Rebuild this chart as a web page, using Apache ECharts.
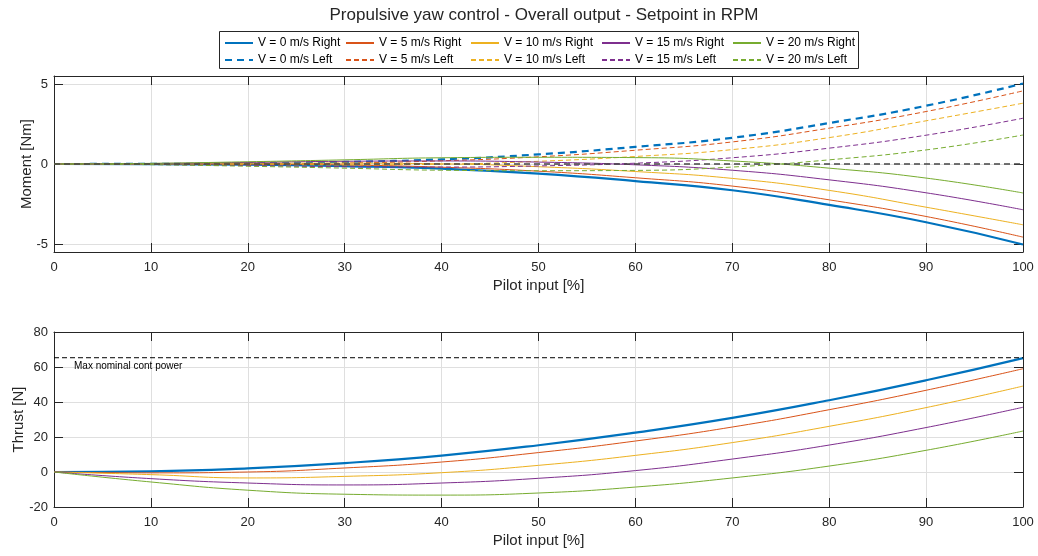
<!DOCTYPE html>
<html>
<head>
<meta charset="utf-8">
<script src="https://cdn.jsdelivr.net/npm/echarts@6/dist/echarts.min.js"></script>
<style>
  html, body { margin: 0; padding: 0; background: #fff; }
  #chart { width: 1038px; height: 556px; }
</style>
</head>
<body>
<div id="chart"></div>
<script>
// Pilot input [%] sample positions
const pilotInput = [0, 10, 20, 30, 40, 50, 60, 70, 80, 90, 100];

// Airspeed cases
const speeds = [0, 5, 10, 15, 20];
const speedColors = ['#0072BD', '#D95319', '#EDB120', '#7E2F8E', '#77AC30'];

// Yaw moment [Nm], right pedal (solid)
const momentRightV0  = [0, -0.01, -0.04, -0.13, -0.29, -0.60, -1.07, -1.64, -2.56, -3.64, -5.03];
const momentRightV5  = [0, 0.00, -0.01, -0.06, -0.20, -0.45, -0.86, -1.38, -2.24, -3.28, -4.57];
const momentRightV10 = [0, 0.01, 0.05, 0.05, 0.01, -0.17, -0.47, -0.90, -1.65, -2.70, -3.80];
const momentRightV15 = [0, 0.03, 0.10, 0.17, 0.19, 0.12, -0.05, -0.39, -0.99, -1.80, -2.86];
const momentRightV20 = [0, 0.04, 0.14, 0.26, 0.39, 0.42, 0.40, 0.19, -0.26, -0.88, -1.81];

// Yaw moment [Nm], left pedal (dashed)
const momentLeftV0  = [0, 0.01, 0.04, 0.13, 0.29, 0.60, 1.07, 1.64, 2.56, 3.64, 5.03];
const momentLeftV5  = [0, 0.00, 0.01, 0.06, 0.20, 0.45, 0.86, 1.38, 2.24, 3.28, 4.57];
const momentLeftV10 = [0, -0.01, -0.05, -0.05, -0.01, 0.17, 0.47, 0.90, 1.65, 2.70, 3.80];
const momentLeftV15 = [0, -0.03, -0.10, -0.17, -0.19, -0.12, 0.05, 0.39, 0.99, 1.80, 2.86];
const momentLeftV20 = [0, -0.04, -0.14, -0.26, -0.39, -0.42, -0.40, -0.19, 0.26, 0.88, 1.81];

// Thrust [N]
const thrustV0  = [0, 0.4, 2.1, 5.1, 9.4, 15.3, 22.5, 30.9, 41.0, 52.4, 65.1];
const thrustV5  = [0, -0.5, 0.0, 2.3, 5.7, 11.1, 17.7, 25.7, 35.6, 46.7, 59.0];
const thrustV10 = [0, -1.5, -3.4, -2.5, -0.4, 3.8, 9.5, 16.8, 26.1, 36.8, 49.1];
const thrustV15 = [0, -3.8, -6.3, -7.4, -6.3, -3.6, 0.8, 7.4, 15.4, 25.4, 37.0];
const thrustV20 = [0, -5.7, -10.4, -12.7, -13.2, -12.0, -8.6, -3.4, 3.4, 12.4, 23.4];

// Max nominal continuous power thrust limit [N]
const maxNominalThrust = 65.3;

const xTicks = { min: 0, max: 100, interval: 10 };

const momentRight = [momentRightV0, momentRightV5, momentRightV10, momentRightV15, momentRightV20];
const momentLeft  = [momentLeftV0, momentLeftV5, momentLeftV10, momentLeftV15, momentLeftV20];
const thrust      = [thrustV0, thrustV5, thrustV10, thrustV15, thrustV20];

const pairs = ys => pilotInput.map((x, i) => [x, ys[i]]);

const FONT = '"Liberation Sans", Arial, Helvetica, sans-serif';
const TXT = '#262626';
const AXIS = '#262626';
const GRIDC = '#dfdfdf';
const SMOOTH = 0.5;

const series = [];
const legendNames = [];

speeds.forEach((v, k) => {
  const wide = k === 0;
  const rName = 'V = ' + v + ' m/s Right';
  const lName = 'V = ' + v + ' m/s Left';
  legendNames.push([rName, lName]);
  series.push({
    name: rName, type: 'line', xAxisIndex: 0, yAxisIndex: 0,
    data: pairs(momentRight[k]), symbol: 'none', smooth: SMOOTH,
    lineStyle: { color: speedColors[k], width: wide ? 2.2 : 1, type: 'solid' },
    itemStyle: { color: speedColors[k] }, z: 3
  });
  series.push({
    name: lName, type: 'line', xAxisIndex: 0, yAxisIndex: 0,
    data: pairs(momentLeft[k]), symbol: 'none', smooth: SMOOTH,
    lineStyle: { color: speedColors[k], width: wide ? 2.2 : 1, type: wide ? [7, 5] : [5, 3] },
    itemStyle: { color: speedColors[k] }, z: 3
  });
});

// zero reference in the moment plot
series.push({
  name: 'zero', type: 'line', xAxisIndex: 0, yAxisIndex: 0,
  data: [[0, 0], [100, 0]], symbol: 'none', silent: true,
  lineStyle: { color: '#444', width: 1.6, type: [6, 4] }, z: 5
});

speeds.forEach((v, k) => {
  series.push({
    name: 'Thrust V = ' + v + ' m/s', type: 'line', xAxisIndex: 2, yAxisIndex: 2,
    data: pairs(thrust[k]), symbol: 'none', smooth: SMOOTH,
    lineStyle: { color: speedColors[k], width: k === 0 ? 2.2 : 1 }, z: 3
  });
});

// thrust limit line
series.push({
  name: 'Max nominal cont power', type: 'line', xAxisIndex: 2, yAxisIndex: 2,
  data: [[0, maxNominalThrust], [100, maxNominalThrust]], symbol: 'none', silent: true,
  lineStyle: { color: '#000', width: 1, type: [5, 3] }, z: 4
});

const tickStyle = { show: true, inside: true, length: 9, lineStyle: { color: AXIS, width: 1 } };
const axisLineStyle = { show: true, onZero: false, lineStyle: { color: AXIS, width: 1 } };
const labelStyle = { color: TXT, fontSize: 13, fontFamily: FONT };
const nameStyle = { color: TXT, fontSize: 15, fontFamily: FONT };

function mainX(gridIndex) {
  return {
    type: 'value', gridIndex, position: 'bottom', ...xTicks,
    name: 'Pilot input [%]', nameLocation: 'middle', nameGap: 26, nameTextStyle: nameStyle,
    nameMoveOverlap: false,
    axisLine: axisLineStyle, axisTick: tickStyle,
    axisLabel: { ...labelStyle, margin: 9 },
    splitLine: { show: true, lineStyle: { color: GRIDC, width: 1 } }
  };
}
function topX(gridIndex) {
  return {
    type: 'value', gridIndex, position: 'top', ...xTicks,
    axisLine: axisLineStyle, axisTick: tickStyle, axisLabel: { show: false },
    splitLine: { show: false }
  };
}

const option = {
  animation: false,
  backgroundColor: '#fff',
  textStyle: { fontFamily: FONT },
  title: {
    text: 'Propulsive yaw control - Overall output - Setpoint in RPM',
    left: 539, top: 2, textAlign: 'center',
    textStyle: { color: TXT, fontSize: 17, fontWeight: 'normal', fontFamily: FONT }
  },
  legend: legendNames.map((pair, k) => ({
    data: pair,
    orient: 'vertical',
    left: [224, 345, 470, 601, 732][k],
    top: 37,
    padding: 0,
    itemWidth: 28, itemHeight: 12, itemGap: 5,
    itemStyle: { opacity: 0 },
    textStyle: { color: '#000', fontSize: 12, fontFamily: FONT },
    selectedMode: false
  })),
  graphic: [
    {
      type: 'rect', z: -1,
      shape: { x: 219.5, y: 31.5, width: 639, height: 37 },
      style: { fill: '#fff', stroke: '#262626', lineWidth: 1 }
    },
    {
      type: 'text', left: 74, top: 361, z: 10,
      style: { text: 'Max nominal cont power', fill: '#000', fontSize: 10, fontFamily: FONT }
    }
  ],
  grid: [
    { left: 54, right: 15, top: 76, height: 176 },
    { left: 54, right: 15, top: 332, height: 175 }
  ],
  xAxis: [mainX(0), topX(0), mainX(1), topX(1)],
  yAxis: [
    {
      type: 'value', gridIndex: 0, min: -5.5, max: 5.5, splitNumber: 2,
      name: 'Moment [Nm]', nameLocation: 'middle', nameGap: 20, nameTextStyle: nameStyle,
      nameMoveOverlap: false,
      axisLine: axisLineStyle, axisTick: tickStyle,
      axisLabel: { ...labelStyle, margin: 6, showMinLabel: false, showMaxLabel: false },
      splitLine: { show: true, lineStyle: { color: GRIDC, width: 1 } }
    },
    {
      type: 'value', gridIndex: 0, position: 'right', min: -5.5, max: 5.5, splitNumber: 2,
      axisLine: axisLineStyle, axisTick: tickStyle, axisLabel: { show: false }, splitLine: { show: false }
    },
    {
      type: 'value', gridIndex: 1, min: -20, max: 80, interval: 20,
      name: 'Thrust [N]', nameLocation: 'middle', nameGap: 28, nameTextStyle: nameStyle,
      nameMoveOverlap: false,
      axisLine: axisLineStyle, axisTick: tickStyle,
      axisLabel: { ...labelStyle, margin: 6 },
      splitLine: { show: true, lineStyle: { color: GRIDC, width: 1 } }
    },
    {
      type: 'value', gridIndex: 1, position: 'right', min: -20, max: 80, interval: 20,
      axisLine: axisLineStyle, axisTick: tickStyle, axisLabel: { show: false }, splitLine: { show: false }
    }
  ],
  series
};

const chart = echarts.init(document.getElementById('chart'), null, { renderer: 'canvas' });
chart.setOption(option);
</script>
</body>
</html>
